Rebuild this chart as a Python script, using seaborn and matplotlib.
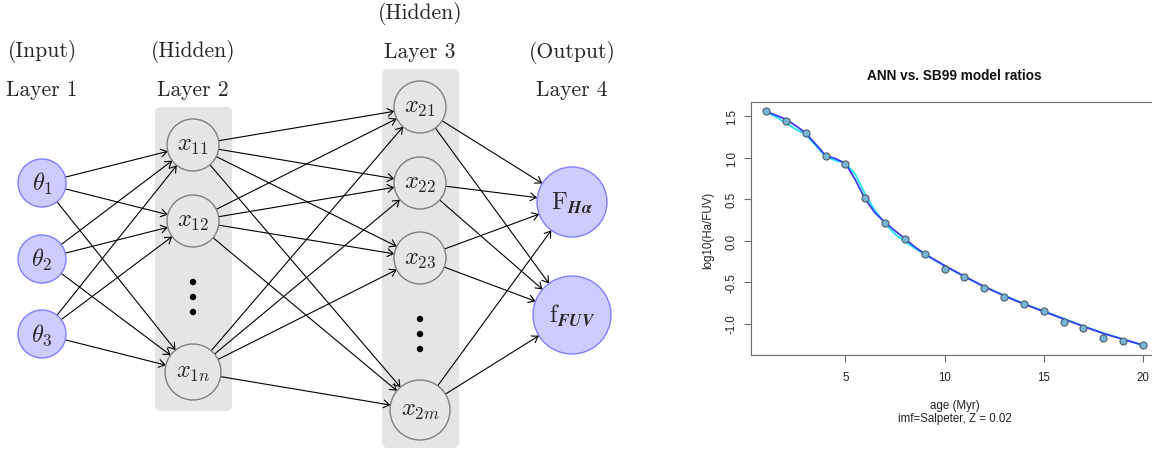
import numpy as np
import pandas as pd
import matplotlib
matplotlib.use("Agg")
import matplotlib.pyplot as plt
from matplotlib.patches import Circle, FancyBboxPatch, FancyArrowPatch
import seaborn as sns

# ---------------- network diagram content ----------------
layer_titles = ["(Input)", "(Hidden)", "(Hidden)", "(Output)"]
layer_names = ["Layer 1", "Layer 2", "Layer 3", "Layer 4"]
input_nodes = [r"$\theta_1$", r"$\theta_2$", r"$\theta_3$"]
hidden1_nodes = [r"$x_{11}$", r"$x_{12}$", r"$x_{1n}$"]
hidden2_nodes = [r"$x_{21}$", r"$x_{22}$", r"$x_{23}$", r"$x_{2m}$"]
output_nodes = [r"$\mathrm{F}_{\boldsymbol{H\alpha}}$",
                r"$\mathrm{f}_{\boldsymbol{FUV}}$"]

# ---------------- model ratio data ----------------
age = list(range(1, 21))
sb99_ratio = [1.564, 1.440, 1.300, 1.025, 0.930, 0.518, 0.216, 0.019, -0.160,
              -0.344, -0.436, -0.565, -0.674, -0.767, -0.853, -0.976, -1.048,
              -1.178, -1.205, -1.254]
curve_age = [1, 1.5, 2, 2.5, 3, 3.5, 4, 4.5, 5, 5.5, 6, 6.5, 7, 7.5, 8, 8.5, 9,
             10, 11, 12, 13, 14, 15, 16, 17, 18, 19, 20]
ann_fit = [1.560, 1.515, 1.467, 1.388, 1.300, 1.165, 1.030, 0.990, 0.935,
           0.735, 0.500, 0.335, 0.220, 0.120, 0.025, -0.075, -0.160,
           -0.300, -0.430, -0.555, -0.665, -0.765, -0.855, -0.945, -1.035,
           -1.120, -1.190, -1.260]
ann_fit_alt = [1.555, 1.495, 1.420, 1.345, 1.285, 1.150, 1.015, 0.970, 0.935,
               0.800, 0.560, 0.360, 0.205, 0.080, -0.010, -0.090, -0.165,
               -0.305, -0.435, -0.555, -0.660, -0.760, -0.850, -0.940, -1.030,
               -1.115, -1.190, -1.265]
x_ticks = [5, 10, 15, 20]
y_ticks = [-1.0, -0.5, 0.0, 0.5, 1.0, 1.5]
y_tick_labels = ["-1.0", "-0.5", "0.0", "0.5", "1.0", "1.5"]

sns.set_style("white")
plt.rcParams["font.family"] = ["Liberation Sans", "DejaVu Sans"]
plt.rcParams["mathtext.fontset"] = "cm"

W, H = 1152, 452
fig = plt.figure(figsize=(W / 100, H / 100), dpi=100)

# ======== left: network diagram (pixel-like coordinates) ========
axn = fig.add_axes([0, 0, 650 / W, 1])
axn.set_xlim(0, 650)
axn.set_ylim(H, 0)
axn.axis("off")

layer_x = [42, 193, 420, 572]
layer_y = [[184, 260, 335], [146, 222, 373], [108, 184, 259, 411], [203, 316]]
layer_r = [[24, 24, 24], [26, 26, 28], [26, 26, 26, 30], [35, 39]]
layer_labels = [input_nodes, hidden1_nodes, hidden2_nodes, output_nodes]
title_y = [(57, 96.5), (57, 96.5), (19, 58), (57.5, 96)]
dots_y = {1: [283, 298, 313], 2: [320, 335, 350]}
hidden_boxes = {1: (155, 108, 232, 412), 2: (382, 70, 459, 449)}

io_face, io_edge = "#ccccff", "#8080ff"
hid_face, hid_edge = "#e6e6e6", "#808080"
box_face = "#e5e5e5"
serif = "cmr10"
fs = 15.5
fs_math = 17.5

for (x0, y0, x1, y1) in hidden_boxes.values():
    axn.add_patch(FancyBboxPatch((x0 + 6, y0 + 6), x1 - x0 - 12, y1 - y0 - 12,
                                 boxstyle="round,pad=6", fc=box_face, ec="none",
                                 zorder=0))

for li in range(3):
    for ya, ra in zip(layer_y[li], layer_r[li]):
        for yb, rb in zip(layer_y[li + 1], layer_r[li + 1]):
            a = np.array([layer_x[li], ya], float)
            b = np.array([layer_x[li + 1], yb], float)
            d = (b - a) / np.hypot(*(b - a))
            axn.add_patch(FancyArrowPatch(tuple(a + ra * d), tuple(b - rb * d),
                                          arrowstyle="->,head_length=0.42,head_width=0.28",
                                          mutation_scale=10, lw=0.8, color="black",
                                          shrinkA=0, shrinkB=0, zorder=1))

for li, (x, ys, rs, labs) in enumerate(zip(layer_x, layer_y, layer_r, layer_labels)):
    io = li in (0, 3)
    for y, r, lab in zip(ys, rs, labs):
        axn.add_patch(Circle((x, y), r, fc=io_face if io else hid_face,
                             ec=io_edge if io else hid_edge, lw=1.0, zorder=2))
        axn.text(x, y, lab, ha="center", va="center", fontsize=fs_math, zorder=3)
    ty1, ty2 = title_y[li]
    axn.text(x, ty1, layer_titles[li], ha="center", va="baseline",
             fontsize=fs, family=serif)
    axn.text(x, ty2, layer_names[li], ha="center", va="baseline",
             fontsize=fs, family=serif)
    if li in dots_y:
        for y in dots_y[li]:
            axn.add_patch(Circle((x, y), 3.2, fc="black", ec="none", zorder=2))

# ======== right: ANN vs SB99 ratios ========
ax = fig.add_axes([751 / W, 96 / H, 407 / W, 253 / H])
sns.lineplot(x=curve_age, y=ann_fit_alt, ax=ax, color="#1ee6f2", lw=1.3,
             sort=False, estimator=None)
sns.lineplot(x=curve_age, y=ann_fit, ax=ax, color="#3a3af2", lw=1.3,
             sort=False, estimator=None)
sns.scatterplot(x=age, y=sb99_ratio, ax=ax, s=26, color="#78b4d4",
                edgecolor="#4d5d6b", linewidth=0.8, zorder=3)

ax.set_xlim(0.24, 20.76)
ax.set_ylim(-1.38, 1.675)
ax.set_xticks(x_ticks)
ax.set_xticklabels([str(t) for t in x_ticks], fontsize=8.3)
ax.set_yticks(y_ticks)
ax.set_yticklabels(y_tick_labels, fontsize=8.3, rotation=90, va="center")
ax.tick_params(axis="both", which="major", bottom=True, left=True,
               direction="out", length=5, width=0.8, color="#6b6b6b",
               labelcolor="#222222")
ax.tick_params(axis="x", pad=6.5)
ax.tick_params(axis="y", pad=4.5)
for sp in ax.spines.values():
    sp.set_visible(True)
    sp.set_color("#6b6b6b")
    sp.set_linewidth(0.8)

ax.set_ylabel("log10(Ha/FUV)", fontsize=8.3, color="#222222", va="center")
ax.yaxis.set_label_coords((708 - 751) / 407, (356 - 230) / 253)
ax.set_xlabel("age (Myr)\nimf=Salpeter, Z = 0.02", fontsize=8.3,
              color="#222222", linespacing=1.1)
ax.xaxis.set_label_coords(0.5, (356 - 400) / 253)
ax.text(0.5, (356 - 76) / 253, "ANN vs. SB99 model ratios", transform=ax.transAxes,
        ha="center", va="center", fontsize=9.8, fontweight="bold",
        color="#111111")

fig.savefig("out.png", dpi=100)
